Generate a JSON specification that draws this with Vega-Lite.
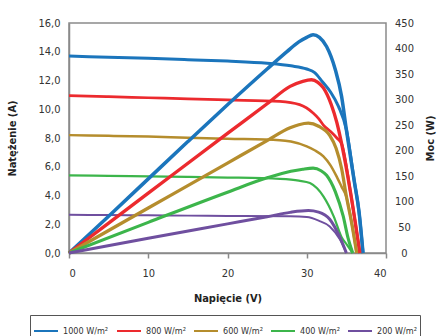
{
  "$schema": "https://vega.github.io/schema/vega-lite/v6.json",
  "width": 317,
  "height": 230,
  "autosize": {"type": "none"},
  "padding": {"left": 69, "top": 23, "right": 51, "bottom": 83},
  "background": "white",
  "datasets": {
    "current": [
      {"s": "1000 W/m²", "V": 0, "I": 13.7}, {"s": "1000 W/m²", "V": 5, "I": 13.62}, {"s": "1000 W/m²", "V": 10, "I": 13.54}, {"s": "1000 W/m²", "V": 15, "I": 13.45}, {"s": "1000 W/m²", "V": 20, "I": 13.35}, {"s": "1000 W/m²", "V": 25, "I": 13.2}, {"s": "1000 W/m²", "V": 28, "I": 13.02}, {"s": "1000 W/m²", "V": 30, "I": 12.8}, {"s": "1000 W/m²", "V": 31, "I": 12.55}, {"s": "1000 W/m²", "V": 32, "I": 11.9}, {"s": "1000 W/m²", "V": 33, "I": 11.2}, {"s": "1000 W/m²", "V": 34, "I": 10.2}, {"s": "1000 W/m²", "V": 35, "I": 8.58}, {"s": "1000 W/m²", "V": 36, "I": 5.0}, {"s": "1000 W/m²", "V": 36.6, "I": 2.85}, {"s": "1000 W/m²", "V": 37.1, "I": 0},
      {"s": "800 W/m²", "V": 0, "I": 10.95}, {"s": "800 W/m²", "V": 5, "I": 10.88}, {"s": "800 W/m²", "V": 10, "I": 10.8}, {"s": "800 W/m²", "V": 15, "I": 10.72}, {"s": "800 W/m²", "V": 20, "I": 10.65}, {"s": "800 W/m²", "V": 26.6, "I": 10.55}, {"s": "800 W/m²", "V": 29.1, "I": 10.32}, {"s": "800 W/m²", "V": 30.8, "I": 9.74}, {"s": "800 W/m²", "V": 31.5, "I": 9.35}, {"s": "800 W/m²", "V": 32.1, "I": 8.9}, {"s": "800 W/m²", "V": 33, "I": 8.45}, {"s": "800 W/m²", "V": 33.8, "I": 8.0}, {"s": "800 W/m²", "V": 34.4, "I": 7.6}, {"s": "800 W/m²", "V": 35.5, "I": 4.3}, {"s": "800 W/m²", "V": 36.7, "I": 0},
      {"s": "600 W/m²", "V": 0, "I": 8.2}, {"s": "600 W/m²", "V": 5, "I": 8.15}, {"s": "600 W/m²", "V": 10, "I": 8.1}, {"s": "600 W/m²", "V": 15, "I": 8.02}, {"s": "600 W/m²", "V": 20, "I": 7.95}, {"s": "600 W/m²", "V": 26.6, "I": 7.85}, {"s": "600 W/m²", "V": 28, "I": 7.75}, {"s": "600 W/m²", "V": 30, "I": 7.42}, {"s": "600 W/m²", "V": 31, "I": 7.15}, {"s": "600 W/m²", "V": 32.1, "I": 6.72}, {"s": "600 W/m²", "V": 33, "I": 6.1}, {"s": "600 W/m²", "V": 33.7, "I": 5.4}, {"s": "600 W/m²", "V": 34.4, "I": 4.6}, {"s": "600 W/m²", "V": 35, "I": 3.9}, {"s": "600 W/m²", "V": 35.7, "I": 2.0}, {"s": "600 W/m²", "V": 36.3, "I": 0},
      {"s": "400 W/m²", "V": 0, "I": 5.4}, {"s": "400 W/m²", "V": 5, "I": 5.37}, {"s": "400 W/m²", "V": 10, "I": 5.33}, {"s": "400 W/m²", "V": 15, "I": 5.29}, {"s": "400 W/m²", "V": 20, "I": 5.25}, {"s": "400 W/m²", "V": 26.6, "I": 5.15}, {"s": "400 W/m²", "V": 29, "I": 5.03}, {"s": "400 W/m²", "V": 30.4, "I": 4.87}, {"s": "400 W/m²", "V": 31.3, "I": 4.5}, {"s": "400 W/m²", "V": 32.1, "I": 3.94}, {"s": "400 W/m²", "V": 33.4, "I": 2.55}, {"s": "400 W/m²", "V": 34.4, "I": 1.1}, {"s": "400 W/m²", "V": 35.1, "I": 0.55}, {"s": "400 W/m²", "V": 35.8, "I": 0},
      {"s": "200 W/m²", "V": 0, "I": 2.66}, {"s": "200 W/m²", "V": 5, "I": 2.64}, {"s": "200 W/m²", "V": 10, "I": 2.62}, {"s": "200 W/m²", "V": 15, "I": 2.6}, {"s": "200 W/m²", "V": 20, "I": 2.58}, {"s": "200 W/m²", "V": 27.9, "I": 2.55}, {"s": "200 W/m²", "V": 30, "I": 2.5}, {"s": "200 W/m²", "V": 31.5, "I": 2.25}, {"s": "200 W/m²", "V": 32.9, "I": 1.85}, {"s": "200 W/m²", "V": 34.2, "I": 0.93}, {"s": "200 W/m²", "V": 35, "I": 0}
    ],
    "power": [
      {"s": "1000 W/m²", "V": 0, "P": 0}, {"s": "1000 W/m²", "V": 5, "P": 72}, {"s": "1000 W/m²", "V": 10, "P": 145}, {"s": "1000 W/m²", "V": 15, "P": 218}, {"s": "1000 W/m²", "V": 20, "P": 290}, {"s": "1000 W/m²", "V": 25, "P": 360}, {"s": "1000 W/m²", "V": 27.5, "P": 394}, {"s": "1000 W/m²", "V": 29, "P": 413}, {"s": "1000 W/m²", "V": 30, "P": 422}, {"s": "1000 W/m²", "V": 30.8, "P": 427}, {"s": "1000 W/m²", "V": 31.6, "P": 422}, {"s": "1000 W/m²", "V": 32.5, "P": 404}, {"s": "1000 W/m²", "V": 33.6, "P": 359}, {"s": "1000 W/m²", "V": 34.4, "P": 306}, {"s": "1000 W/m²", "V": 35, "P": 241}, {"s": "1000 W/m²", "V": 36, "P": 140}, {"s": "1000 W/m²", "V": 36.6, "P": 80}, {"s": "1000 W/m²", "V": 37.1, "P": 0},
      {"s": "800 W/m²", "V": 0, "P": 0}, {"s": "800 W/m²", "V": 10, "P": 117}, {"s": "800 W/m²", "V": 20, "P": 234}, {"s": "800 W/m²", "V": 25, "P": 292}, {"s": "800 W/m²", "V": 27.9, "P": 326}, {"s": "800 W/m²", "V": 29.5, "P": 336}, {"s": "800 W/m²", "V": 30.6, "P": 339}, {"s": "800 W/m²", "V": 31.4, "P": 334}, {"s": "800 W/m²", "V": 32.1, "P": 323}, {"s": "800 W/m²", "V": 33.1, "P": 290}, {"s": "800 W/m²", "V": 33.8, "P": 255}, {"s": "800 W/m²", "V": 34.4, "P": 214}, {"s": "800 W/m²", "V": 35.5, "P": 121}, {"s": "800 W/m²", "V": 36.7, "P": 0},
      {"s": "600 W/m²", "V": 0, "P": 0}, {"s": "600 W/m²", "V": 10, "P": 88}, {"s": "600 W/m²", "V": 20, "P": 176}, {"s": "600 W/m²", "V": 25, "P": 220}, {"s": "600 W/m²", "V": 27.9, "P": 245}, {"s": "600 W/m²", "V": 29, "P": 251}, {"s": "600 W/m²", "V": 30.2, "P": 254}, {"s": "600 W/m²", "V": 31.5, "P": 248}, {"s": "600 W/m²", "V": 32.9, "P": 230}, {"s": "600 W/m²", "V": 33.7, "P": 205}, {"s": "600 W/m²", "V": 34.4, "P": 165}, {"s": "600 W/m²", "V": 35, "P": 111}, {"s": "600 W/m²", "V": 35.7, "P": 56}, {"s": "600 W/m²", "V": 36.3, "P": 0},
      {"s": "400 W/m²", "V": 0, "P": 0}, {"s": "400 W/m²", "V": 10, "P": 60}, {"s": "400 W/m²", "V": 20, "P": 119}, {"s": "400 W/m²", "V": 25, "P": 147}, {"s": "400 W/m²", "V": 28, "P": 160}, {"s": "400 W/m²", "V": 29.5, "P": 164}, {"s": "400 W/m²", "V": 30.8, "P": 166}, {"s": "400 W/m²", "V": 31.8, "P": 161}, {"s": "400 W/m²", "V": 32.5, "P": 152}, {"s": "400 W/m²", "V": 33.6, "P": 120}, {"s": "400 W/m²", "V": 34.6, "P": 72}, {"s": "400 W/m²", "V": 35.2, "P": 30}, {"s": "400 W/m²", "V": 35.8, "P": 0},
      {"s": "200 W/m²", "V": 0, "P": 0}, {"s": "200 W/m²", "V": 10, "P": 29}, {"s": "200 W/m²", "V": 20, "P": 57}, {"s": "200 W/m²", "V": 25, "P": 71}, {"s": "200 W/m²", "V": 27.9, "P": 79.5}, {"s": "200 W/m²", "V": 30.2, "P": 83}, {"s": "200 W/m²", "V": 31.5, "P": 80}, {"s": "200 W/m²", "V": 32.9, "P": 66}, {"s": "200 W/m²", "V": 34.2, "P": 30}, {"s": "200 W/m²", "V": 35, "P": 0}
    ]
  },
  "config": {
    "font": "Liberation Sans Narrow, DejaVu Sans Condensed, Roboto Condensed, Liberation Sans, sans-serif",
    "view": {"stroke": "#8a8a8a", "strokeWidth": 1.5},
    "axis": {
      "grid": false,
      "domainColor": "#8a8a8a",
      "domainWidth": 1.5,
      "tickColor": "#8a8a8a",
      "tickWidth": 1.5,
      "labelColor": "#333333",
      "titleColor": "#222222",
      "labelFontSize": 11,
      "titleFontSize": 11,
      "titleFontWeight": "bold"
    },
    "legend": {
      "labelColor": "#333333"
    }
  },
  "layer": [
    {
      "data": {"name": "current"},
      "mark": {"type": "line", "interpolate": "monotone"},
      "encoding": {
        "x": {
          "field": "V", "type": "quantitative",
          "scale": {"domain": [0, 40], "nice": false},
          "axis": {"title": "Napięcie (V)", "values": [0, 5, 10, 15, 20, 25, 30, 35, 40], "tickSize": 5, "labelPadding": 9, "titlePadding": 14}
        },
        "y": {
          "field": "I", "type": "quantitative",
          "scale": {"domain": [0, 16], "nice": false},
          "axis": {"title": "Natężenie (A)", "orient": "left", "values": [0, 2, 4, 6, 8, 10, 12, 14, 16], "ticks": false, "tickSize": 0, "labelPadding": 9, "titlePadding": 20, "labelExpr": "replace(format(datum.value, '.1f'), '.', ',')"}
        },
        "color": {
          "field": "s", "type": "nominal",
          "scale": {"domain": ["1000 W/m²", "800 W/m²", "600 W/m²", "400 W/m²", "200 W/m²"], "range": ["#1b75bc", "#ec2a2e", "#b58d2d", "#3cb54b", "#6f4f9f"]},
          "legend": {
            "title": null, "orient": "none", "legendX": -39, "legendY": 292, "direction": "horizontal",
            "symbolType": "stroke", "symbolSize": 576, "symbolStrokeWidth": 2,
            "strokeColor": "#555555", "padding": 3, "labelFontSize": 9, "labelOffset": 4, "columnPadding": 4
          }
        },
        "strokeWidth": {
          "field": "s", "type": "nominal",
          "scale": {"domain": ["1000 W/m²", "800 W/m²", "600 W/m²", "400 W/m²", "200 W/m²"], "range": [3, 2, 3, 2, 2]},
          "legend": null
        }
      }
    },
    {
      "data": {"name": "power"},
      "mark": {"type": "line", "interpolate": "monotone"},
      "encoding": {
        "x": {"field": "V", "type": "quantitative"},
        "y": {
          "field": "P", "type": "quantitative",
          "scale": {"domain": [0, 450], "nice": false},
          "axis": {"title": "Moc (W)", "orient": "right", "values": [0, 50, 100, 150, 200, 250, 300, 350, 400, 450], "ticks": false, "tickSize": 0, "labelPadding": 18, "labelAlign": "center", "titlePadding": 22, "titleAngle": 270, "domain": false}
        },
        "color": {"field": "s", "type": "nominal"},
        "strokeWidth": {
          "field": "s", "type": "nominal",
          "scale": {"domain": ["1000 W/m²", "800 W/m²", "600 W/m²", "400 W/m²", "200 W/m²"], "range": [3.5, 3, 3, 2.5, 2.5]},
          "legend": null
        }
      }
    }
  ],
  "resolve": {"scale": {"y": "independent", "strokeWidth": "independent"}}
}
